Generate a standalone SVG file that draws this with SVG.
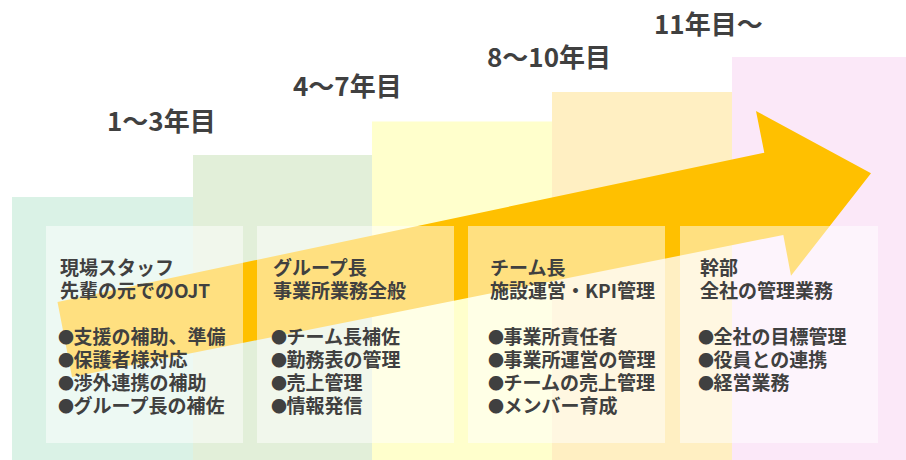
<svg xmlns="http://www.w3.org/2000/svg" width="906" height="460" viewBox="0 0 906 460">
<style>
.yr{font-family:"Noto Sans CJK JP","Noto Sans",sans-serif;font-weight:700;font-size:26px;fill:#404040}
.tx{font-family:"Noto Sans CJK JP","Noto Sans",sans-serif;font-weight:700;font-size:19px;fill:#404040}
.dot{font-size:16px;letter-spacing:-0.5px}
.box{fill:#ffffff;fill-opacity:0.5}
</style>
<rect width="906" height="460" fill="#ffffff"/>
<g id="columns">
<rect id="col1" x="12" y="197" width="181" height="263" fill="#DAF2E6"/>
<rect id="col2" x="193" y="155" width="179" height="305" fill="#E2EFD9"/>
<rect id="col3" x="372" y="121.5" width="180" height="338.5" fill="#FFFFCC"/>
<rect id="col4" x="552" y="92" width="180" height="368" fill="#FFEFC2"/>
<rect id="col5" x="732" y="57" width="174" height="403" fill="#FBE8F8"/>
</g>
<g id="years">
<text class="yr" x="107" y="131">1〜3年目</text>
<text class="yr" x="293" y="96">4〜7年目</text>
<text class="yr" x="487" y="67">8〜10年目</text>
<text class="yr" x="654" y="34">11年目〜</text>
</g>
<g id="connectors">
<polygon id="arrow" points="57.5,302 764.3,152.7 756,111 871,173.3 791,275.7 783.3,235 72,377" fill="#FFC000"/>
</g>
<g id="node1">
<rect class="box" x="46" y="226" width="197" height="217"/>
<text class="tx" x="60" y="275">現場スタッフ</text>
<text class="tx" x="60" y="298">先輩の元でのOJT</text>
<text class="tx" x="60" y="344"><tspan class="dot" dx="-2" dy="-1">●</tspan><tspan dy="1">支援の補助、準備</tspan></text>
<text class="tx" x="60" y="367"><tspan class="dot" dx="-2" dy="-1">●</tspan><tspan dy="1">保護者様対応</tspan></text>
<text class="tx" x="60" y="390"><tspan class="dot" dx="-2" dy="-1">●</tspan><tspan dy="1">渉外連携の補助</tspan></text>
<text class="tx" x="60" y="413"><tspan class="dot" dx="-2" dy="-1">●</tspan><tspan dy="1">グループ長の補佐</tspan></text>
</g>
<g id="node2">
<rect class="box" x="257" y="226" width="197" height="217"/>
<text class="tx" x="273" y="275">グループ長</text>
<text class="tx" x="273" y="298">事業所業務全般</text>
<text class="tx" x="273" y="344"><tspan class="dot" dx="-2" dy="-1">●</tspan><tspan dy="1">チーム長補佐</tspan></text>
<text class="tx" x="273" y="367"><tspan class="dot" dx="-2" dy="-1">●</tspan><tspan dy="1">勤務表の管理</tspan></text>
<text class="tx" x="273" y="390"><tspan class="dot" dx="-2" dy="-1">●</tspan><tspan dy="1">売上管理</tspan></text>
<text class="tx" x="273" y="413"><tspan class="dot" dx="-2" dy="-1">●</tspan><tspan dy="1">情報発信</tspan></text>
</g>
<g id="node3">
<rect class="box" x="468" y="226" width="197" height="217"/>
<text class="tx" x="490" y="275">チーム長</text>
<text class="tx" x="490" y="298">施設運営・KPI管理</text>
<text class="tx" x="490" y="344"><tspan class="dot" dx="-2" dy="-1">●</tspan><tspan dy="1">事業所責任者</tspan></text>
<text class="tx" x="490" y="367"><tspan class="dot" dx="-2" dy="-1">●</tspan><tspan dy="1">事業所運営の管理</tspan></text>
<text class="tx" x="490" y="390"><tspan class="dot" dx="-2" dy="-1">●</tspan><tspan dy="1">チームの売上管理</tspan></text>
<text class="tx" x="490" y="413"><tspan class="dot" dx="-2" dy="-1">●</tspan><tspan dy="1">メンバー育成</tspan></text>
</g>
<g id="node4">
<rect class="box" x="680" y="226" width="198" height="217"/>
<text class="tx" x="700" y="275">幹部</text>
<text class="tx" x="700" y="298">全社の管理業務</text>
<text class="tx" x="700" y="344"><tspan class="dot" dx="-2" dy="-1">●</tspan><tspan dy="1">全社の目標管理</tspan></text>
<text class="tx" x="700" y="367"><tspan class="dot" dx="-2" dy="-1">●</tspan><tspan dy="1">役員との連携</tspan></text>
<text class="tx" x="700" y="390"><tspan class="dot" dx="-2" dy="-1">●</tspan><tspan dy="1">経営業務</tspan></text>
</g>
</svg>
